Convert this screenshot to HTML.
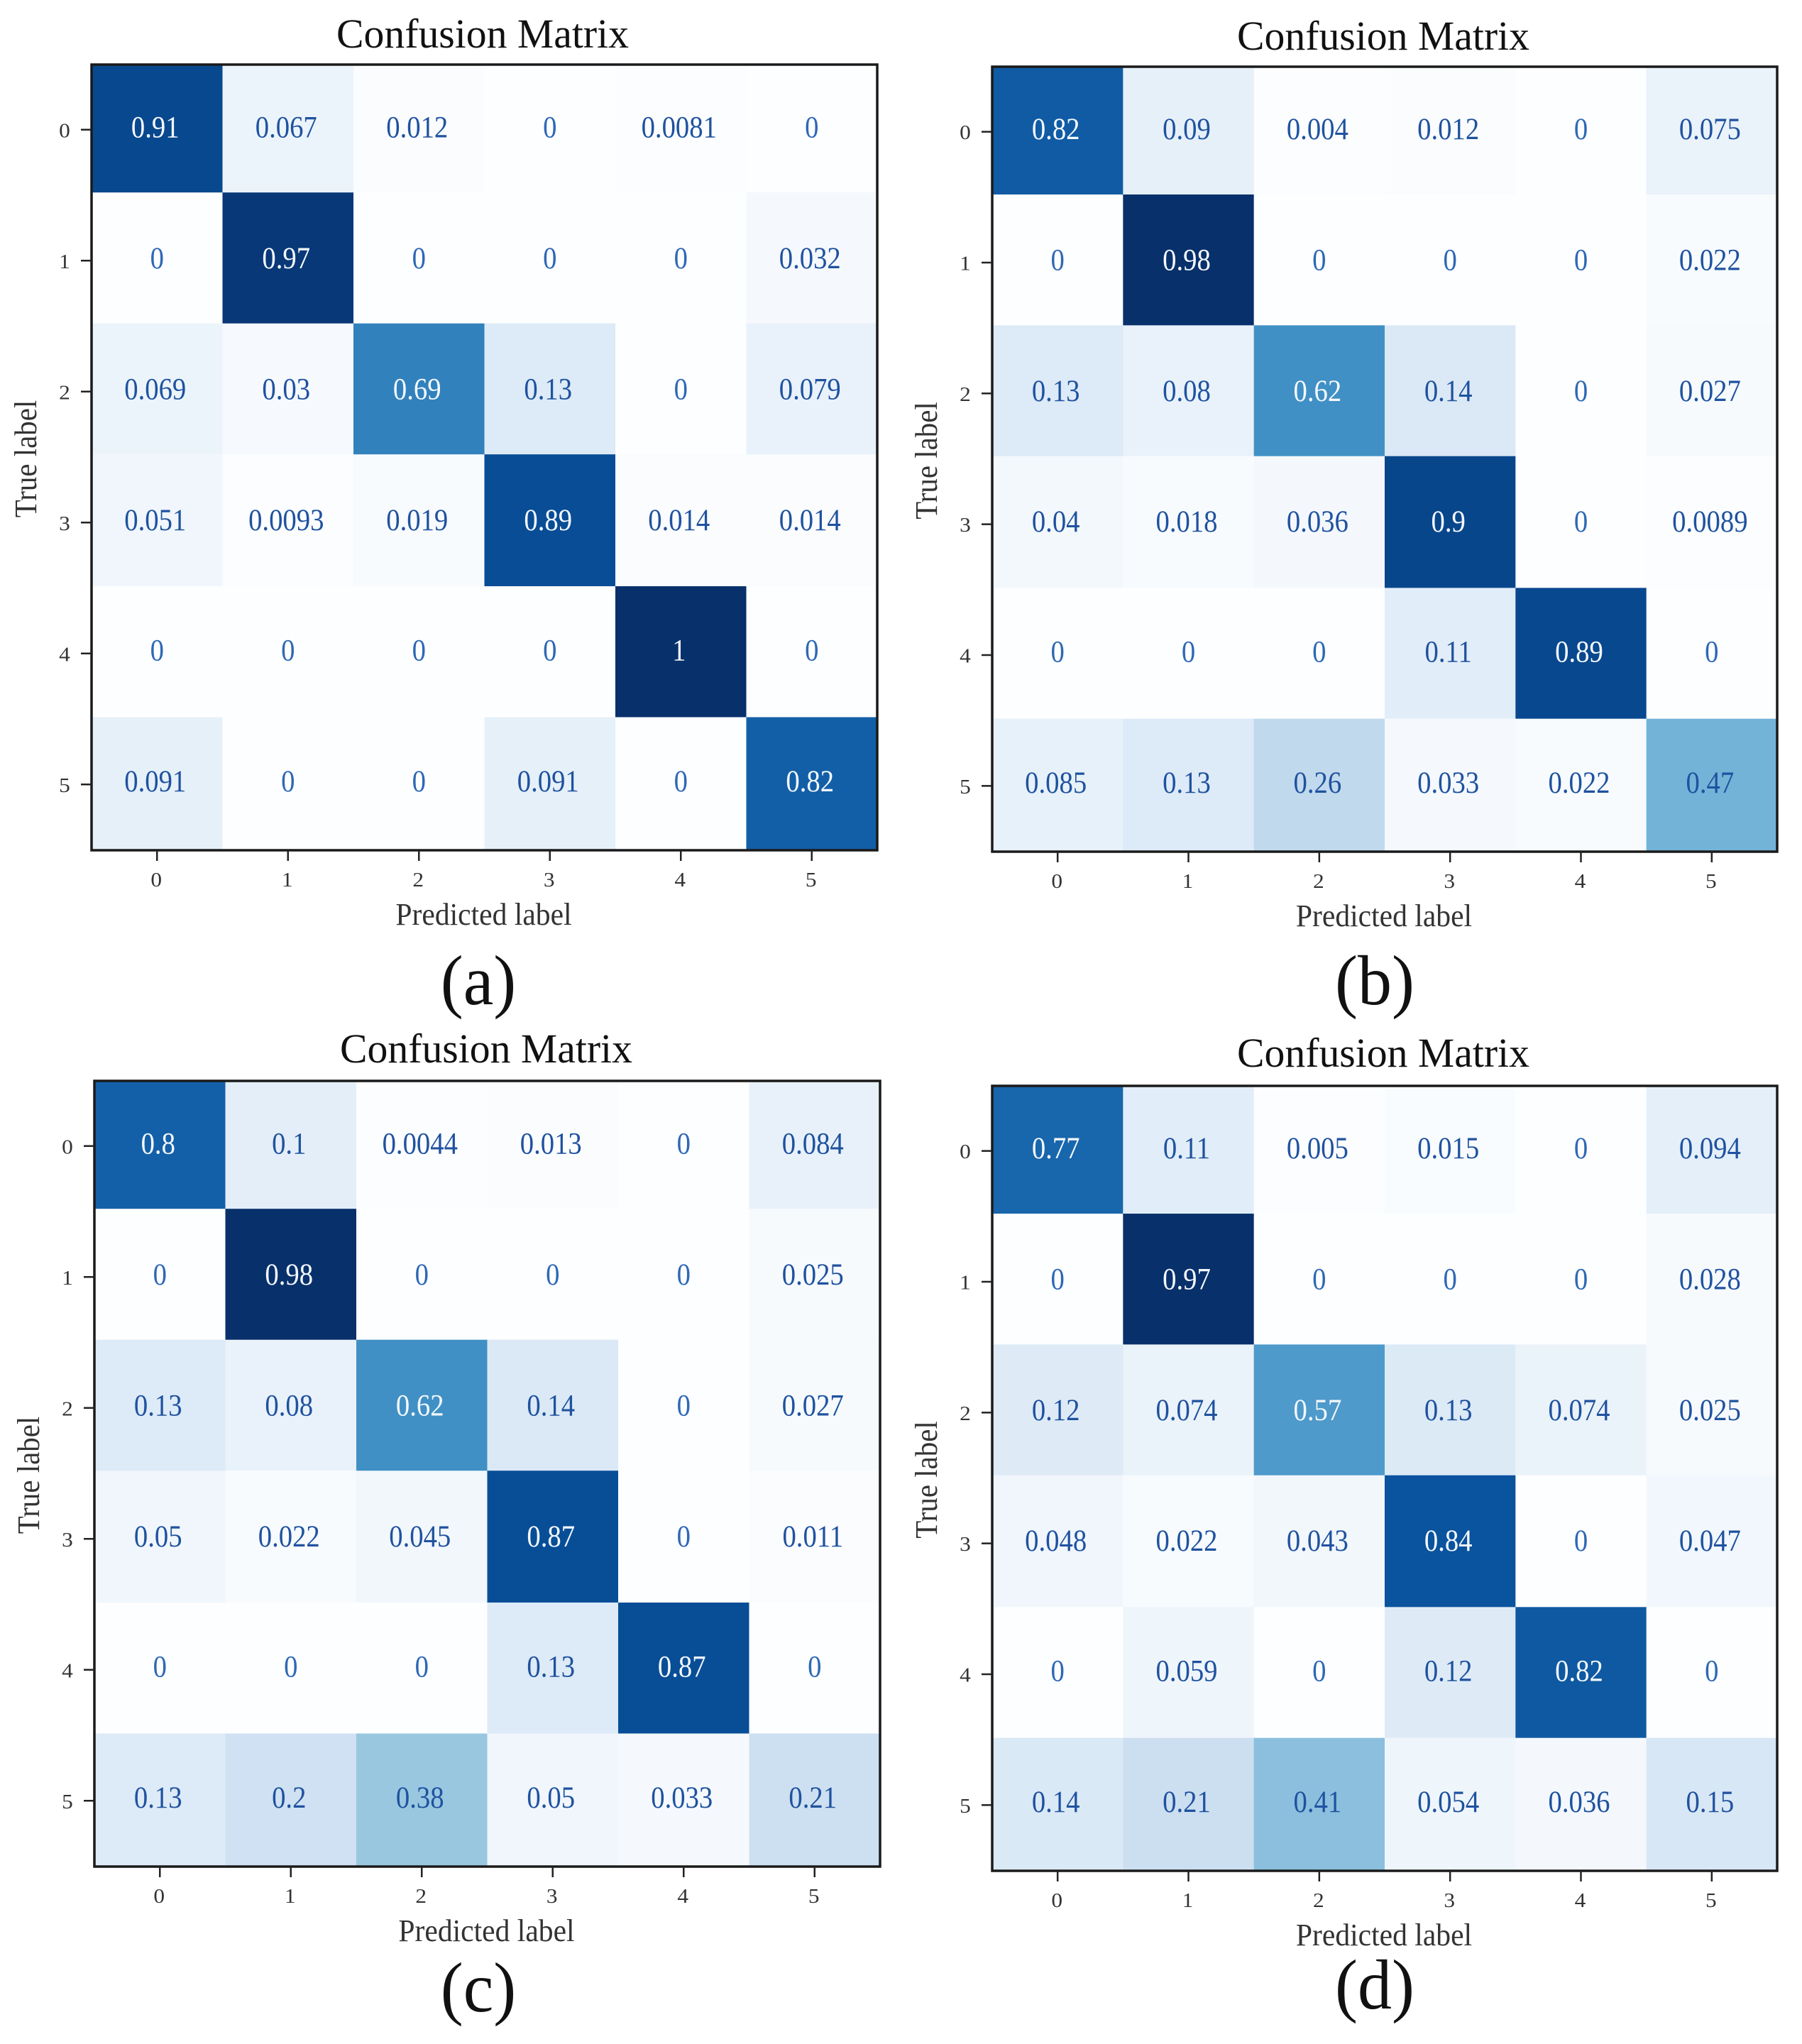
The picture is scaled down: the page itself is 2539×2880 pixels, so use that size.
<!DOCTYPE html>
<html lang="en">
<head>
<meta charset="utf-8">
<title>Confusion Matrices</title>
<style>
html,body{margin:0;padding:0;background:#fff;width:2539px;height:2880px;overflow:hidden}
svg{display:block}
text{font-family:"Liberation Serif",serif}
</style>
</head>
<body>
<svg id="figure" xmlns="http://www.w3.org/2000/svg" width="2539" height="2880" viewBox="0 0 2539 2880">
<rect x="0" y="0" width="2539" height="2880" fill="#ffffff"/>
</svg>
<script>
const categories = ['0', '1', '2', '3', '4', '5'];
const matrixA = [
  [0.91, 0.067, 0.012, 0, 0.0081, 0],
  [0, 0.97, 0, 0, 0, 0.032],
  [0.069, 0.03, 0.69, 0.13, 0, 0.079],
  [0.051, 0.0093, 0.019, 0.89, 0.014, 0.014],
  [0, 0, 0, 0, 1, 0],
  [0.091, 0, 0, 0.091, 0, 0.82]
];
const matrixB = [
  [0.82, 0.09, 0.004, 0.012, 0, 0.075],
  [0, 0.98, 0, 0, 0, 0.022],
  [0.13, 0.08, 0.62, 0.14, 0, 0.027],
  [0.04, 0.018, 0.036, 0.9, 0, 0.0089],
  [0, 0, 0, 0.11, 0.89, 0],
  [0.085, 0.13, 0.26, 0.033, 0.022, 0.47]
];
const matrixC = [
  [0.8, 0.1, 0.0044, 0.013, 0, 0.084],
  [0, 0.98, 0, 0, 0, 0.025],
  [0.13, 0.08, 0.62, 0.14, 0, 0.027],
  [0.05, 0.022, 0.045, 0.87, 0, 0.011],
  [0, 0, 0, 0.13, 0.87, 0],
  [0.13, 0.2, 0.38, 0.05, 0.033, 0.21]
];
const matrixD = [
  [0.77, 0.11, 0.005, 0.015, 0, 0.094],
  [0, 0.97, 0, 0, 0, 0.028],
  [0.12, 0.074, 0.57, 0.13, 0.074, 0.025],
  [0.048, 0.022, 0.043, 0.84, 0, 0.047],
  [0, 0.059, 0, 0.12, 0.82, 0],
  [0.14, 0.21, 0.41, 0.054, 0.036, 0.15]
];

const NS = 'http://www.w3.org/2000/svg';
const svg = document.getElementById('figure');
const BLUES = [[253,254,255],[222,235,247],[198,219,239],[158,202,225],[107,174,214],[66,146,198],[33,113,181],[8,81,156],[8,48,107]];

function blues(t) {
  const p = Math.max(0, Math.min(1, t)) * (BLUES.length - 1);
  const i = Math.min(BLUES.length - 2, Math.floor(p));
  const f = p - i;
  const c = BLUES[i].map((a, k) => Math.round(a + (BLUES[i + 1][k] - a) * f));
  return 'rgb(' + c.join(',') + ')';
}

function svgEl(tag, attrs, parent) {
  const el = document.createElementNS(NS, tag);
  for (const k in attrs) el.setAttribute(k, attrs[k]);
  parent.appendChild(el);
  return el;
}

function label(parent, str, x, y, size, fill, sx, rot) {
  const t = 'translate(' + x + ' ' + y + ')' + (rot ? ' rotate(' + rot + ')' : '') + ' scale(' + sx + ' 1)';
  const el = svgEl('text', {transform: t, 'text-anchor': 'middle', 'font-size': size, fill: fill}, parent);
  el.textContent = str;
  return el;
}

function drawPanel(id, matrix, box, title, caption) {
  const g = svgEl('g', {}, svg);
  
  

  const size = box.size;
  const n = categories.length;
  const cell = size / n;
  const xScale = i => box.x + cell * i;
  const yScale = i => box.y + cell * i;
  // inner row edges sit slightly above an even grid in the source figure
  const rowEdge = i => yScale(i) + (i === 0 || i === n ? 0 : (i <= 3 ? -4.3 : -3));
  const maxV = Math.max(...matrix.flat());
  const minV = Math.min(...matrix.flat());
  const norm = v => (v - minV) / (maxV - minV);

  matrix.forEach((row, r) => {
    row.forEach((v, c) => {
      const top = rowEdge(r);
      const rect = svgEl('rect', {x: xScale(c), y: top, width: cell + 0.5, height: rowEdge(r + 1) - top + 0.5, fill: blues(norm(v))}, g);
      
      
    });
  });

  matrix.forEach((row, r) => {
    row.forEach((v, c) => {
      const dark = norm(v) > 0.5;
      const dx = v === 0 ? 0 : -2.5;
      const dy = r >= 4 ? 9 : 10;
      const fill = dark ? '#f4f8fc' : (v === 0 ? '#2e68b6' : '#1f529f');
      const val = label(g, String(v), xScale(c) + cell / 2 + dx, yScale(r) + cell / 2 + dy, 43, fill, 0.9);
      
      
    });
  });

  const frame = svgEl('rect', {x: box.x, y: box.y, width: size, height: size, fill: 'none', stroke: '#1a1a1a', 'stroke-width': 3.5}, g);
  
  

  categories.forEach((cat, i) => {
    const px = xScale(i) + cell / 2;
    const py = yScale(i) + cell / 2;

    const xt = svgEl('line', {x1: px, x2: px, y1: box.y + size, y2: box.y + size + 15, stroke: '#222', 'stroke-width': 2.5}, g);
    
    

    const xl = label(g, cat, px - 1, box.y + size + 51, 28, '#333', 1.12);
    
    

    const yt = svgEl('line', {x1: box.x - 15, x2: box.x, y1: py - 0.5, y2: py - 0.5, stroke: '#222', 'stroke-width': 2.5}, g);
    
    

    const yl = label(g, cat, box.x - 38, py + 10, 28, '#333', 1.12);
    
    
  });

  const tt = label(g, title.text, title.x, title.y, 58, '#111', 0.995);
  
  

  const xa = label(g, 'Predicted label', box.x + size / 2 - 1, box.y + size + 105, 44, '#333', 0.945);
  
  

  const ya = label(g, 'True label', box.x - 78, box.y + size / 2 + 2, 44, '#333', 0.93, -90);
  
  

  const cp = label(g, '(' + id + ')', caption.x, caption.y, 100, '#111', 0.96);
  
  
}

drawPanel('a', matrixA, {x: 129, y: 91, size: 1107}, {text: 'Confusion Matrix', x: 680, y: 67}, {x: 674, y: 1415});
drawPanel('b', matrixB, {x: 1398, y: 94, size: 1106}, {text: 'Confusion Matrix', x: 1949, y: 70}, {x: 1937, y: 1415});
drawPanel('c', matrixC, {x: 133, y: 1523, size: 1107}, {text: 'Confusion Matrix', x: 685, y: 1497}, {x: 674, y: 2834});
drawPanel('d', matrixD, {x: 1398, y: 1530, size: 1106}, {text: 'Confusion Matrix', x: 1949, y: 1503}, {x: 1937, y: 2830});
</script>
</body>
</html>
